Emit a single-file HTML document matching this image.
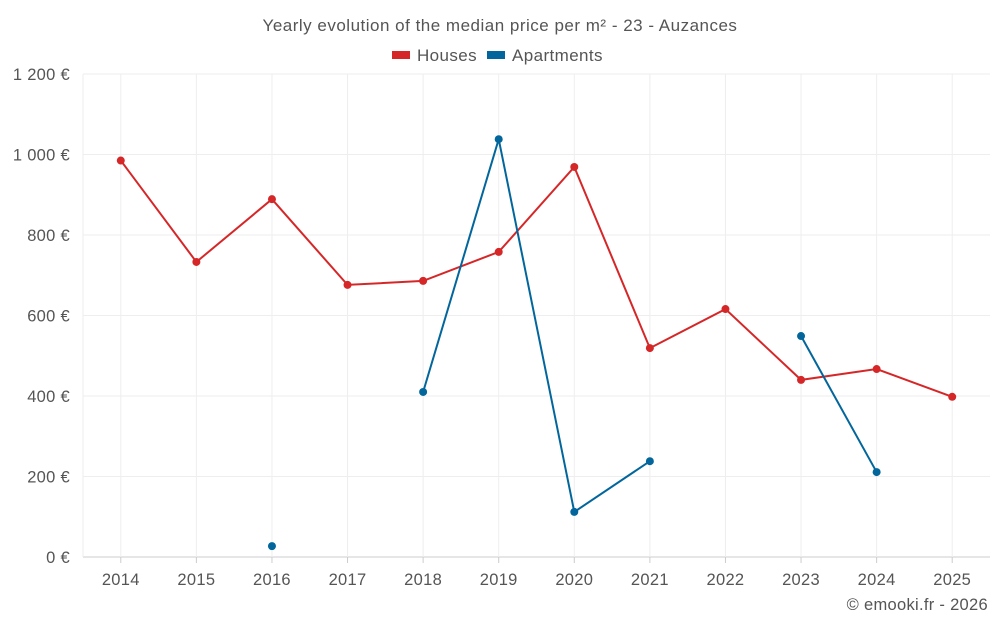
<!DOCTYPE html>
<html><head><meta charset="utf-8"><style>
body{margin:0;background:#fff;font-family:"Liberation Sans",sans-serif;}
svg text{font-family:"Liberation Sans",sans-serif;fill:#555;}
</style></head><body>
<svg id="chart" width="1000" height="625">
<text x="500" y="31" text-anchor="middle" font-size="17" letter-spacing="0.5">Yearly evolution of the median price per m² - 23 - Auzances</text>
<g>
<g><rect x="392" y="51" width="18" height="8" fill="#d62728"/><text x="417" y="61" font-size="17" letter-spacing="0.4">Houses</text></g>
<g><rect x="487" y="51" width="18" height="8" fill="#02669c"/><text x="512" y="61" font-size="17" letter-spacing="0.4">Apartments</text></g>
</g>
<g id="grid"></g><g id="axes"></g><g id="series"></g>
<text x="988" y="610" text-anchor="end" font-size="16.5" letter-spacing="0.3">© emooki.fr - 2026</text>
</svg>
<script>
const years=[2014,2015,2016,2017,2018,2019,2020,2021,2022,2023,2024,2025];
const houses=[985,733,889,676,686,758,969,519,616,440,467,398];
const apartments=[null,null,27,null,410,1038,112,238,null,549,211,null];
const yTicks=[0,200,400,600,800,1000,1200];
const yTickLabels=["0 €","200 €","400 €","600 €","800 €","1 000 €","1 200 €"];
const NS="http://www.w3.org/2000/svg";
const x0=83,x1=990,yBottom=557,yTop=74;
const step=(x1-x0)/years.length;
function X(i){return x0+step*(i+0.5);}
function Y(v){return yBottom-(v/1200)*(yBottom-yTop);}
function mk(tag,attrs,parent){const e=document.createElementNS(NS,tag);for(const k in attrs)e.setAttribute(k,attrs[k]);parent.appendChild(e);return e;}
const grid=document.getElementById('grid'),axes=document.getElementById('axes'),ser=document.getElementById('series');
yTicks.forEach((t,i)=>{
 const l=mk('line',{x1:x0,x2:x1,y1:Y(t),y2:Y(t),stroke:i===0?'#ccc':'#eee'},grid);
 
 
 const tx=mk('text',{x:70,y:Y(t)+6,'text-anchor':'end','font-size':16.5,'letter-spacing':0.3},axes);
 tx.textContent=yTickLabels[i];
 
 
});
const ax=mk('line',{x1:x0,x2:x0,y1:yTop,y2:yBottom,stroke:'#eee'},grid);


years.forEach((y,i)=>{
 const l=mk('line',{x1:X(i),x2:X(i),y1:yTop,y2:yBottom,stroke:'#eee'},grid);
 
 
 const tk=mk('line',{x1:X(i),x2:X(i),y1:yBottom,y2:yBottom+6,stroke:'#ccc'},axes);
 
 
 const tx=mk('text',{x:X(i),y:585,'text-anchor':'middle','font-size':16.5,'letter-spacing':0.3},axes);
 tx.textContent=y;
 
 
});
function draw(data,color,name){
 let seg=[];
 const flush=()=>{if(seg.length>1){const p=mk('polyline',{points:seg.join(' '),fill:'none',stroke:color,'stroke-width':2},ser);
  
  }seg=[];};
 data.forEach((v,i)=>{if(v==null){flush();return;}seg.push(X(i)+','+Y(v));});
 flush();
 data.forEach((v,i)=>{if(v==null)return;
  const c=mk('circle',{cx:X(i),cy:Y(v),r:4,fill:color},ser);
  
  });
}
draw(houses,'#d62728','houses');
draw(apartments,'#02669c','apartments');
</script>
</body></html>
